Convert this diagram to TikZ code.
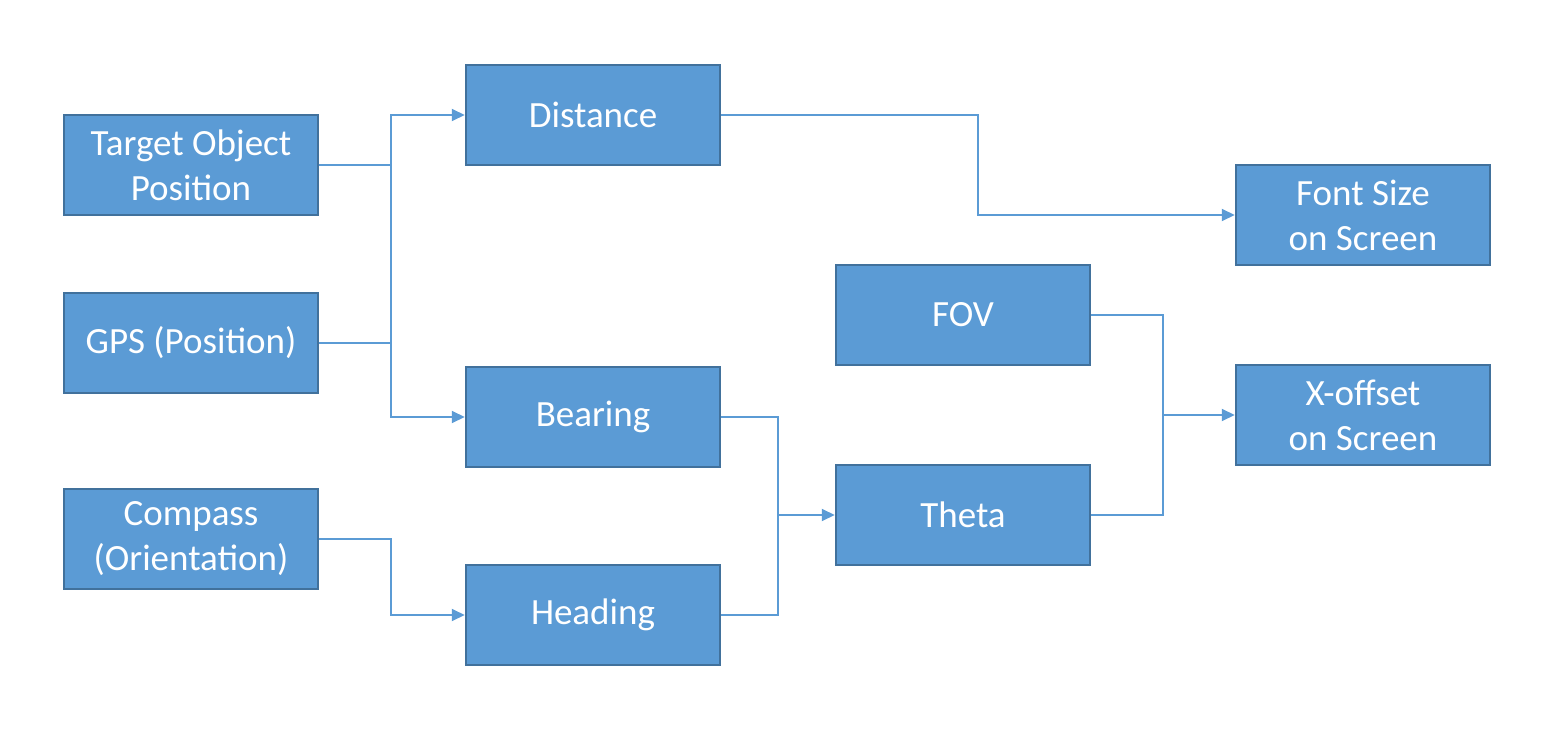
\documentclass[tikz,border=0pt]{standalone}
\usepackage{fontspec}
\setmainfont{Carlito}
\usetikzlibrary{arrows.meta}
\definecolor{boxfill}{HTML}{5B9BD5}
\definecolor{boxdraw}{HTML}{41719C}
\tikzset{
  blk/.style={draw=boxdraw,line width=2.5pt,fill=boxfill,minimum width=254pt,minimum height=100pt,
    inner sep=0pt,text=white,align=center,font=\fontsize{37}{45}\selectfont},
  conn/.style={draw=boxfill,line width=2pt},
  arr/.style={conn,-{Triangle[length=13pt,width=12pt]}}
}
\begin{document}
\begin{tikzpicture}[x=1pt,y=-1pt]
\useasboundingbox (0,0) rectangle (1544,730);
\node[blk] (tgt) at (191,165) {Target Object\\Position};
\node[blk] (gps) at (191,343) {GPS (Position)};
\node[blk] (cmp) at (191,539) {Compass\\(Orientation)};
\node[blk] (dst) at (593,115) {Distance};
\node[blk] (brg) at (593,417) {Bearing};
\node[blk] (hdg) at (593,615) {Heading};
\node[blk] (fov) at (963,315) {FOV};
\node[blk] (tht) at (963,515) {Theta};
\node[blk] (fnt) at (1363,215) {Font Size\\on Screen};
\node[blk] (xof) at (1363,415) {X-offset\\on Screen};
\coordinate (j1) at (391,165);
\coordinate (j2) at (391,343);
\coordinate (j3) at (778,515);
\coordinate (j4) at (1163,415);
\draw[conn] (tgt.east) -- (j1);
\draw[conn] (gps.east) -- (j2);
\draw[arr] (j1) |- (dst.west);
\draw[arr] (j2) |- (brg.west);
\draw[conn] (j1) -- (j2);
\draw[arr] (cmp.east) -- (391,539) |- (hdg.west);
\draw[arr] (dst.east) -- (978,115) |- (fnt.west);
\draw[conn] (brg.east) -| (j3);
\draw[conn] (hdg.east) -| (j3);
\draw[arr] (j3) -- (tht.west);
\draw[conn] (fov.east) -| (j4);
\draw[conn] (tht.east) -| (j4);
\draw[arr] (j4) -- (xof.west);
\end{tikzpicture}
\end{document}
